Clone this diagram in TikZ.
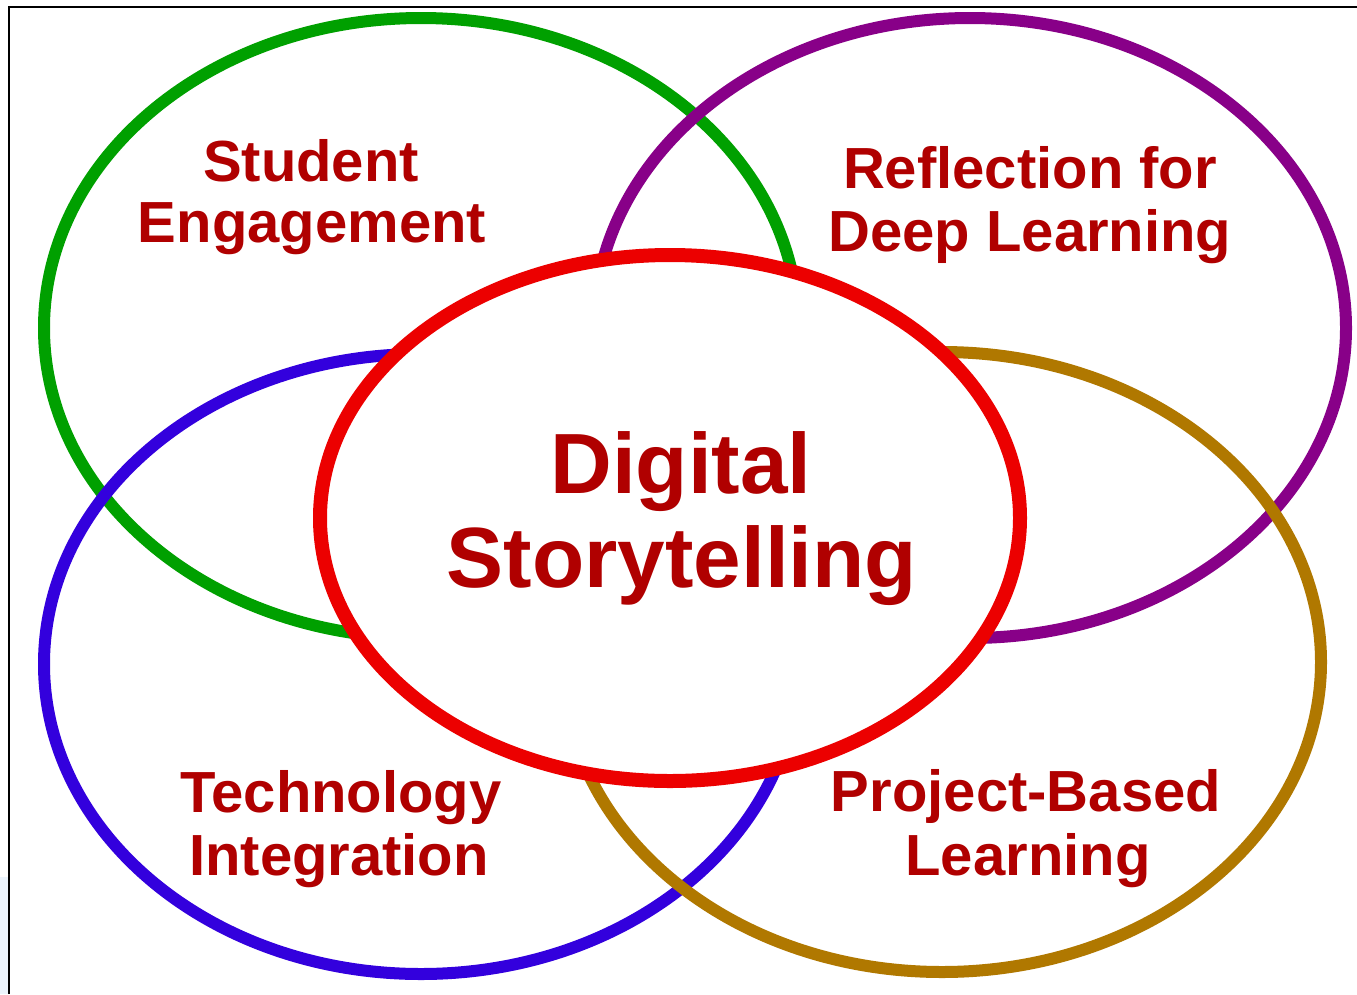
\documentclass[tikz,border=0pt]{standalone}
\usepackage{fontspec}
\setmainfont{Liberation Sans}
\definecolor{cgreen}{RGB}{0,160,0}
\definecolor{cpurple}{RGB}{136,0,136}
\definecolor{cblue}{RGB}{51,0,221}
\definecolor{cgold}{RGB}{176,120,0}
\definecolor{cred}{RGB}{236,0,0}
\definecolor{ctext}{RGB}{176,0,0}
\definecolor{cstrip}{RGB}{236,244,252}
\tikzset{
  ring/.style={line width=12pt},
  lbl/.style={text=ctext, font=\fontsize{58}{60}\selectfont\bfseries, anchor=base, inner sep=0pt},
  big/.style={text=ctext, font=\fontsize{85.5}{88}\selectfont\bfseries, anchor=base, inner sep=0pt}
}
\begin{document}
\begin{tikzpicture}[x=1pt,y=-1pt]
\useasboundingbox (0,0) rectangle (1357,994);
\fill[white] (0,0) rectangle (1357,994);
\fill[cstrip] (0,877) rectangle (8,994);
\draw[line width=2pt] (9,994) -- (9,7) -- (1357,7);
% outer rings
\draw[ring, cgreen] (421,328) ellipse [x radius=377, y radius=310];
\draw[ring, cpurple] (970,328) ellipse [x radius=376, y radius=310];
\draw[ring, cblue] (421,664) ellipse [x radius=377, y radius=310];
\draw[ring, cgold] (942,662) ellipse [x radius=379, y radius=310];
% central ring
\draw[line width=14pt, cred, fill=white] (670,518) ellipse [x radius=350, y radius=263];
% labels
\node[lbl] (se1) at (311,181) {Student};
\node[lbl] (se2) at (312,242) {Engagement};
\node[lbl] (rd1) at (1030,188) {Reflection for};
\node[lbl] (rd2) at (1030,251) {Deep Learning};
\node[lbl] (ti1) at (341,812) {Technology};
\node[lbl] (ti2) at (339,875) {Integration};
\node[lbl] (pb1) at (1026,811) {Project-Based};
\node[lbl] (pb2) at (1028,875) {Learning};
\node[big] (ds1) at (681,493) {Digital};
\node[big] (ds2) at (682,587) {Storytelling};
\end{tikzpicture}
\end{document}
